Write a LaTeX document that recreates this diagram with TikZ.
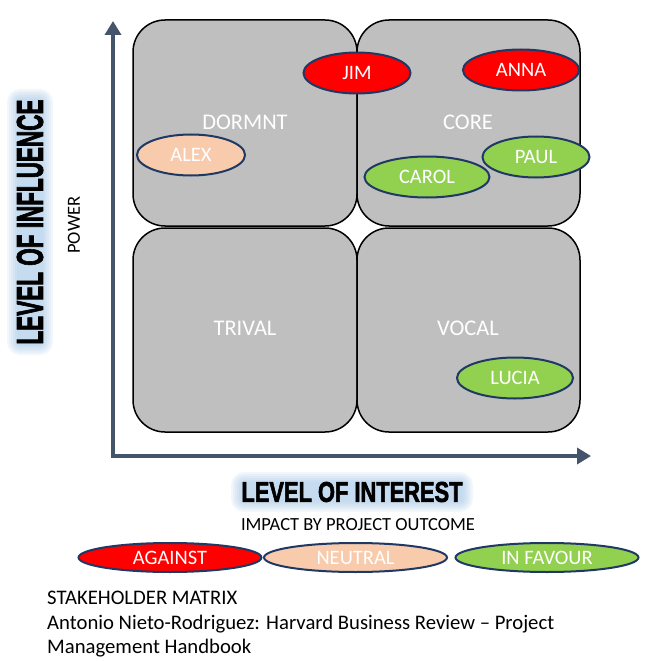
\documentclass[tikz,border=0pt]{standalone}
\usepackage{fontspec}
\setmainfont{Carlito}
\newfontfamily\impactfont[BoldFeatures={FakeBold=2.5}]{Liberation Sans}
\usetikzlibrary{shapes.geometric,arrows.meta}
\definecolor{axisblue}{HTML}{44546A}
\definecolor{quadgray}{HTML}{BFBFBF}
\definecolor{navy}{HTML}{1F3864}
\definecolor{against}{HTML}{FF0000}
\definecolor{neutral}{HTML}{F8CBAD}
\definecolor{favour}{HTML}{92D050}
\definecolor{glow}{HTML}{9DC3E6}
\tikzset{
  quad/.style={draw=black, line width=1.5pt, fill=quadgray, rounded corners=32pt},
  quadlabel/.style={text=white, font=\fontsize{22.4}{26}\selectfont},
  stake/.style={ellipse, draw=navy, line width=2pt, inner sep=0pt, minimum height=41pt,
    text=white, font=\fontsize{20.5}{24}\selectfont},
  legend/.style={ellipse, draw=navy, line width=2pt, inner sep=0pt, minimum height=29pt,
    minimum width=183pt, text=white, font=\fontsize{20.5}{24}\selectfont},
  axis/.style={draw=axisblue, line width=4.5pt, line join=miter,
    {Triangle[width=16pt,length=14pt]}-{Triangle[width=16pt,length=14pt]}},
  glowbox/.style={fill=glow, opacity=0.13, draw=none},
  bigtitle/.style={inner sep=0pt, text=black},
  small/.style={font=\fontsize{18.5}{22}\selectfont},
  foot/.style={font=\fontsize{20.7}{24.5}\selectfont, align=left, anchor=north west, inner sep=0pt}
}
\begin{document}
\begin{tikzpicture}[x=1pt,y=-1pt]
\useasboundingbox[fill=white] (0,0) rectangle (670,661);
% quadrants
\draw[quad] (133,20) rectangle (357,226);
\draw[quad] (357,20) rectangle (580,226);
\draw[quad] (133,228) rectangle (357,432);
\draw[quad] (357,228) rectangle (580,432);
\node[quadlabel] (dormnt) at (245,122) {DORMNT};
\node[quadlabel] (core) at (468,122) {CORE};
\node[quadlabel] (trival) at (245,328) {TRIVAL};
\node[quadlabel] (vocal) at (468,328) {VOCAL};
% axes
\coordinate (ytip) at (113,21);
\coordinate (origin) at (113,456);
\coordinate (xtip) at (591,456);
\draw[axis] (ytip) -- (origin) -- (xtip);
% stakeholders
\node[stake, fill=against, minimum width=107pt] (jim) at (357,73) {JIM};
\node[stake, fill=against, minimum width=116pt] (anna) at (521,70) {ANNA};
\node[stake, fill=neutral, minimum width=108pt] (alex) at (191,155) {ALEX};
\node[stake, fill=favour, minimum width=125pt] (carol) at (427,177) {CAROL};
\node[stake, fill=favour, minimum width=107pt] (paul) at (536,157) {PAUL};
\node[stake, fill=favour, minimum width=116pt] (lucia) at (515,378) {LUCIA};
% vertical title with glow
\foreach \d in {10,8,6,4,2,0}{
  \fill[glowbox, rounded corners={\d+3}] (30-13-\d,222-123-\d) rectangle (30+13+\d,222+123+\d);
}
\node[bigtitle, rotate=90] (influence) at (30,222)
  {\resizebox{245pt}{26pt}{\impactfont\bfseries LEVEL OF INFLUENCE}};
\node[small, rotate=90] (power) at (74,225) {POWER};
% horizontal title with glow
\foreach \d in {10,8,6,4,2,0}{
  \fill[glowbox, rounded corners={\d+3}] (352-111-\d,492-10-\d) rectangle (352+111+\d,492+10+\d);
}
\node[bigtitle] (interest) at (352,492)
  {\resizebox{221pt}{20pt}{\impactfont\bfseries LEVEL OF INTEREST}};
\node[small] (impact) at (358,525) {IMPACT BY PROJECT OUTCOME};
% legend
\node[legend, fill=against] (lagainst) at (170,557.5) {AGAINST};
\node[legend, fill=neutral] (lneutral) at (355.5,557.5) {NEUTRAL};
\node[legend, fill=favour] (lfavour) at (547,557.5) {IN FAVOUR};
% footer
\node[foot] (footer) at (47,591) {STAKEHOLDER MATRIX\\Antonio Nieto-Rodriguez: Harvard Business Review – Project\\Management Handbook};
\end{tikzpicture}
\end{document}
